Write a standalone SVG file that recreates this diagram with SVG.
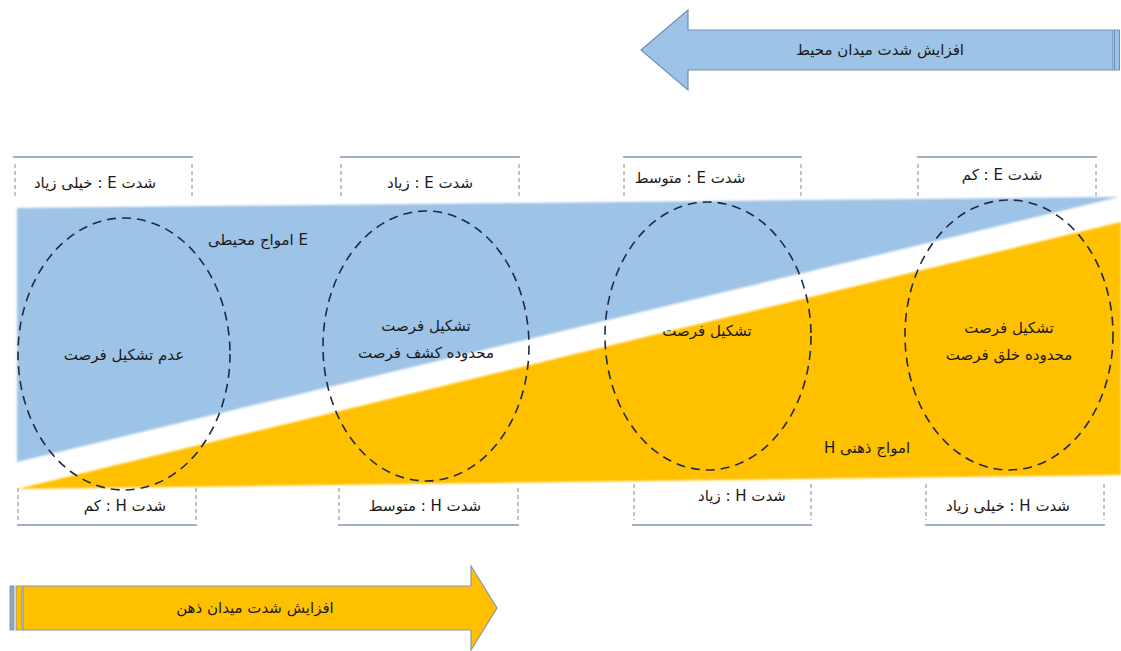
<svg xmlns="http://www.w3.org/2000/svg" width="1121" height="651" viewBox="0 0 1121 651">
<style>
  .t { font-family: "DejaVu Sans", "Noto Sans", sans-serif; font-size: 15px; fill: #1a1a1a; }
  .rtl { direction: rtl; unicode-bidi: embed; }
  .ell { fill: none; stroke: #1f2a44; stroke-width: 1.6; stroke-dasharray: 9 6; }
  .topline { stroke: #8296ae; stroke-width: 1.6; }
  .vdash { stroke: #8a8a8a; stroke-width: 1; stroke-dasharray: 4 3; }
  .blue { fill: #9dc3e6; }
  .yellow { fill: #ffc000; }
</style>
<defs>
  <filter id="soft" x="-2%" y="-2%" width="104%" height="104%">
    <feGaussianBlur stdDeviation="1.1"/>
  </filter>
</defs>
<rect width="1121" height="651" fill="#ffffff"/>

<g id="band-E">
  <polygon class="blue" filter="url(#soft)" points="17,208 1119,197 17,462"/>
  <text class="t" x="258" y="245" text-anchor="middle">امواج محیطی E</text>
</g>
<g id="band-H">
  <polygon class="yellow" filter="url(#soft)" points="17,489 1121,222 1121,475"/>
  <text class="t rtl" x="867" y="453" text-anchor="middle">امواج ذهنی  H</text>
</g>

<g id="arrow-top">
  <path d="M641,50 L688,10 L688,30 L1113,30 L1113,70 L688,70 L688,90 Z" fill="#9dc3e6" stroke="#6f8fb8" stroke-width="1.2"/>
  <rect x="1114.5" y="30" width="5" height="40" fill="#9dc3e6" stroke="#6f8fb8" stroke-width="1"/>
  <text class="t" x="880" y="55" text-anchor="middle">افزایش شدت میدان محیط</text>
</g>

<g id="arrow-bottom">
  <rect x="10" y="586" width="4" height="44" fill="#8fa6c4" stroke="#7d8ea6" stroke-width="0.8"/>
  <rect x="16" y="586" width="6" height="44" fill="#ffc000" stroke="#7d8ea6" stroke-width="0.8"/>
  <path d="M23,586 L471,586 L471,566 L497,608 L471,650 L471,630 L23,630 Z" fill="#ffc000" stroke="#8a96a8" stroke-width="1.2"/>
  <text class="t" x="255" y="613" text-anchor="middle">افزایش شدت میدان ذهن</text>
</g>

<g id="ellipse-1">
  <ellipse class="ell" cx="124" cy="354" rx="106" ry="136"/>
  <text class="t" x="124" y="360" text-anchor="middle">عدم تشکیل فرصت</text>
</g>
<g id="ellipse-2">
  <ellipse class="ell" cx="426" cy="346" rx="103" ry="135"/>
  <text class="t" x="426" y="331" text-anchor="middle">تشکیل فرصت</text>
  <text class="t" x="426" y="358" text-anchor="middle">محدوده کشف فرصت</text>
</g>
<g id="ellipse-3">
  <ellipse class="ell" cx="708" cy="336" rx="103" ry="134"/>
  <text class="t" x="707" y="336" text-anchor="middle">تشکیل فرصت</text>
</g>
<g id="ellipse-4">
  <ellipse class="ell" cx="1009" cy="335" rx="104" ry="135"/>
  <text class="t" x="1009" y="333" text-anchor="middle">تشکیل فرصت</text>
  <text class="t" x="1009" y="360" text-anchor="middle">محدوده خلق فرصت</text>
</g>

<g id="label-E-1">
  <line class="topline" x1="13" y1="157" x2="193" y2="157"/>
  <line class="vdash" x1="15" y1="164" x2="15" y2="198"/>
  <line class="vdash" x1="192" y1="164" x2="192" y2="198"/>
  <text class="t rtl" x="95" y="188" text-anchor="middle">شدت E : خیلی زیاد</text>
</g>
<g id="label-E-2">
  <line class="topline" x1="340" y1="157" x2="520" y2="157"/>
  <line class="vdash" x1="341" y1="164" x2="341" y2="198"/>
  <line class="vdash" x1="519" y1="164" x2="519" y2="198"/>
  <text class="t rtl" x="430" y="188" text-anchor="middle">شدت E : زیاد</text>
</g>
<g id="label-E-3">
  <line class="topline" x1="623" y1="157" x2="802" y2="157"/>
  <line class="vdash" x1="624" y1="164" x2="624" y2="198"/>
  <line class="vdash" x1="801" y1="164" x2="801" y2="198"/>
  <text class="t rtl" x="690" y="183" text-anchor="middle">شدت E : متوسط</text>
</g>
<g id="label-E-4">
  <line class="topline" x1="917" y1="157" x2="1097" y2="157"/>
  <line class="vdash" x1="918" y1="164" x2="918" y2="198"/>
  <line class="vdash" x1="1096" y1="164" x2="1096" y2="198"/>
  <text class="t rtl" x="1002" y="180" text-anchor="middle">شدت E : کم</text>
</g>

<g id="label-H-1">
  <line class="topline" x1="17" y1="525" x2="197" y2="525"/>
  <line class="vdash" x1="18" y1="488" x2="18" y2="520"/>
  <line class="vdash" x1="196" y1="488" x2="196" y2="520"/>
  <text class="t rtl" x="125" y="511" text-anchor="middle">شدت H : کم</text>
</g>
<g id="label-H-2">
  <line class="topline" x1="338" y1="525" x2="519" y2="525"/>
  <line class="vdash" x1="339" y1="488" x2="339" y2="520"/>
  <line class="vdash" x1="518" y1="488" x2="518" y2="520"/>
  <text class="t rtl" x="425" y="511" text-anchor="middle">شدت H : متوسط</text>
</g>
<g id="label-H-3">
  <line class="topline" x1="632" y1="525" x2="812" y2="525"/>
  <line class="vdash" x1="634" y1="484" x2="634" y2="520"/>
  <line class="vdash" x1="811" y1="484" x2="811" y2="520"/>
  <text class="t rtl" x="742" y="501" text-anchor="middle">شدت H : زیاد</text>
</g>
<g id="label-H-4">
  <line class="topline" x1="925" y1="525" x2="1105" y2="525"/>
  <line class="vdash" x1="926" y1="484" x2="926" y2="520"/>
  <line class="vdash" x1="1104" y1="484" x2="1104" y2="520"/>
  <text class="t rtl" x="1008" y="511" text-anchor="middle">شدت H : خیلی زیاد</text>
</g>

<g id="connectors"></g>
</svg>
